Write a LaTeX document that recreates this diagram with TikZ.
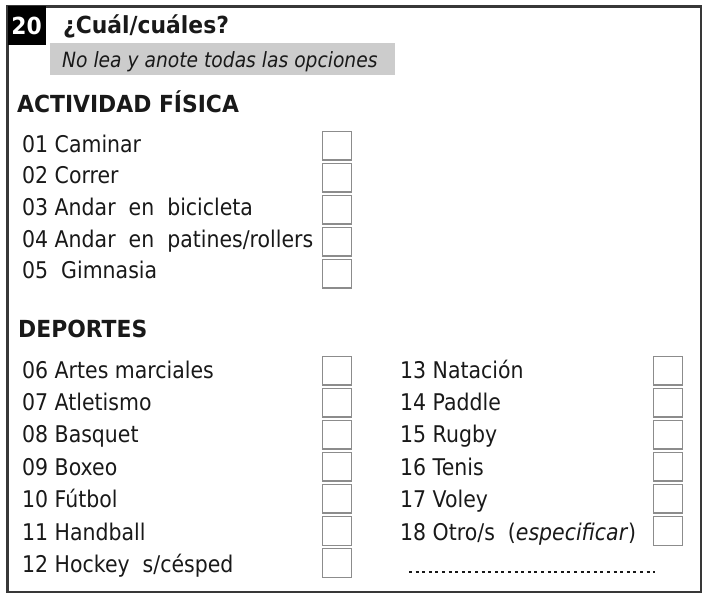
\documentclass[tikz,border=0pt]{standalone}
\usepackage{fontspec}
\setmainfont{DejaVu Sans}
\newfontfamily\itemfont[FakeStretch=0.89]{DejaVu Sans}
\newfontfamily\headfont[FakeStretch=0.93]{DejaVu Sans}
\usetikzlibrary{positioning}
\definecolor{inkgray}{rgb}{0.10,0.10,0.10}
\definecolor{framegray}{rgb}{0.22,0.22,0.22}
\definecolor{boxgray}{rgb}{0.55,0.55,0.55}
\definecolor{notegray}{rgb}{0.80,0.80,0.80}
\tikzset{
  item/.style={anchor=base west, inner sep=0pt, text=inkgray, font=\itemfont\fontsize{23}{26}\selectfont},
  head/.style={anchor=base west, inner sep=0pt, text=inkgray, font=\headfont\bfseries\fontsize{23.5}{27}\selectfont},
  chk/.style={draw=boxgray, line width=1.3pt, minimum size=28.7pt, inner sep=0pt},
  numbox/.style={fill=black, text=white, inner sep=0pt, minimum width=38pt, minimum height=39pt, font=\headfont\bfseries\fontsize{23.5}{27}\selectfont},
  notebox/.style={fill=notegray, inner sep=0pt, minimum width=345pt, minimum height=32pt},
}

\begin{document}
\begin{tikzpicture}[x=1pt,y=-1pt]
\useasboundingbox (0,0) rectangle (711,600);
% frame and question
\draw[framegray, line width=2.2pt] (7.5,6.5) rectangle (701,592);
\node[numbox] (num) at (26.5,25.5) {20};
\node[head] (title) at (63,33) {¿Cuál/cuáles?};
\node[notebox] (note) at (222.5,59) {};
\node[item, font=\itemfont\itshape\fontsize{21}{24}\selectfont] (notetx) at (62,67) {No lea y anote todas las opciones};
% actividad fisica
\node[head] (actividad) at (17,112) {ACTIVIDAD FÍSICA};
\node[item] (it01) at (22,152) {01 Caminar};
\node[item] (it02) at (22,183.5) {02 Correr};
\node[item] (it03) at (22,215.5) {03 Andar\ \ en\ \ bicicleta};
\node[item] (it04) at (22,247) {04 Andar\ \ en\ \ patines/rollers};
\node[item] (it05) at (22,278.5) {05\ \ Gimnasia};
\node[chk] (b01) at (337,145.5) {};
\node[chk] (b02) at (337,177.5) {};
\node[chk] (b03) at (337,209.5) {};
\node[chk] (b04) at (337,241.5) {};
\node[chk] (b05) at (337,273.5) {};
% deportes
\node[head] (deportes) at (18,337) {DEPORTES};
\node[item] (it06) at (22,378) {06 Artes marciales};
\node[item] (it07) at (22,410) {07 Atletismo};
\node[item] (it08) at (22,442) {08 Basquet};
\node[item] (it09) at (22,475) {09 Boxeo};
\node[item] (it10) at (22,507) {10 Fútbol};
\node[item] (it11) at (22,540) {11 Handball};
\node[item] (it12) at (22,572) {12 Hockey\ \ s/césped};
\node[chk] (b06) at (337,370.5) {};
\node[chk] (b07) at (337,402.5) {};
\node[chk] (b08) at (337,434.5) {};
\node[chk] (b09) at (337,466.5) {};
\node[chk] (b10) at (337,498.5) {};
\node[chk] (b11) at (337,531) {};
\node[chk] (b12) at (337,563) {};
\node[item] (it13) at (400,378) {13 Natación};
\node[item] (it14) at (400,410) {14 Paddle};
\node[item] (it15) at (400,442) {15 Rugby};
\node[item] (it16) at (400,475) {16 Tenis};
\node[item] (it17) at (400,507) {17 Voley};
\node[item] (it18) at (400,540) {18 Otro/s\ \ (\textit{especificar})};
\node[chk] (b13) at (668,370.5) {};
\node[chk] (b14) at (668,402.5) {};
\node[chk] (b15) at (668,434.5) {};
\node[chk] (b16) at (668,466.5) {};
\node[chk] (b17) at (668,498.5) {};
\node[chk] (b18) at (668,531) {};
% line to write on
\coordinate (dotsA) at (409,572);
\coordinate (dotsB) at (655,572);
\draw[inkgray, line width=2.9pt, dash pattern=on 2.9pt off 3.7pt] (dotsA) -- (dotsB);
\end{tikzpicture}
\end{document}
